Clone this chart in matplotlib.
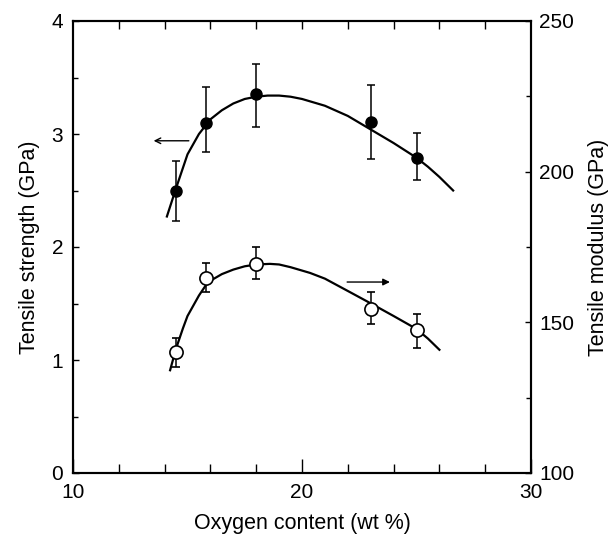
import numpy as np
import matplotlib
matplotlib.use("Agg")
import matplotlib.pyplot as plt
from matplotlib.ticker import MultipleLocator

plt.rcParams["font.family"] = ["Liberation Sans", "DejaVu Sans"]

# measured points (oxygen content, wt %)
oxygen = [14.5, 15.8, 18.0, 23.0, 25.0]

# tensile strength (GPa), filled circles, left axis
strength = [2.50, 3.10, 3.35, 3.11, 2.79]
strength_hi = [2.76, 3.42, 3.62, 3.43, 3.01]
strength_lo = [2.23, 2.84, 3.06, 2.78, 2.59]

# tensile modulus (GPa), open circles, right axis
modulus = [140.0, 164.6, 169.4, 154.4, 147.4]
modulus_hi = [144.7, 169.6, 175.0, 160.0, 152.8]
modulus_lo = [135.2, 160.0, 164.4, 149.3, 141.6]

# fitted curves
strength_fit_x = [14.1, 14.5, 15.0, 15.5, 16.0, 16.5, 17.0, 17.5, 18.0, 18.5,
                  19.0, 19.5, 20.0, 21.0, 22.0, 23.0, 24.0, 25.0, 25.5, 26.0, 26.6]
strength_fit_y = [2.27, 2.52, 2.82, 3.00, 3.13, 3.21, 3.27, 3.31, 3.33, 3.34,
                  3.34, 3.33, 3.31, 3.25, 3.16, 3.04, 2.92, 2.79, 2.71, 2.62, 2.50]

modulus_fit_x = [14.24, 14.5, 14.8, 15.0, 15.5, 15.8, 16.0, 16.5, 17.0, 17.5, 18.0,
                 18.6, 19.0, 19.5, 20.35, 21.0, 22.1, 23.0, 24.0, 25.0, 25.5, 26.0]
modulus_fit_y = [134.1, 141.3, 148.0, 152.1, 158.9, 162.3, 163.8, 166.0, 167.5, 168.6, 169.2,
                 169.4, 169.2, 168.3, 166.4, 164.5, 160.0, 156.3, 152.1, 147.8, 144.6, 140.9]

fig = plt.figure(figsize=(6.1, 5.36), dpi=100)
fig.subplots_adjust(left=73 / 610, right=531 / 610, top=1 - 21 / 536, bottom=1 - 473 / 536)
ax = fig.add_subplot(111)
ax2 = ax.twinx()

# strength
ax.plot(strength_fit_x, strength_fit_y, color="black", lw=1.6, zorder=2)
s = np.array(strength)
ax.errorbar(oxygen, strength,
            yerr=[s - np.array(strength_lo), np.array(strength_hi) - s],
            fmt="o", color="black", ms=8, ecolor="black", elinewidth=1.1,
            capsize=3, capthick=1.1, zorder=3)

# modulus
ax2.plot(modulus_fit_x, modulus_fit_y, color="black", lw=1.6, zorder=2)
m = np.array(modulus)
ax2.errorbar(oxygen, modulus,
             yerr=[m - np.array(modulus_lo), np.array(modulus_hi) - m],
             fmt="o", mfc="white", mec="black", mew=1.2, ms=9.5, ecolor="black",
             elinewidth=1.1, capsize=3, capthick=1.1, zorder=3)

# arrows pointing at the axes
ax.annotate("", xy=(13.4, 2.94), xytext=(15.18, 2.94),
            arrowprops=dict(arrowstyle="->", color="black", lw=1.0))
ax.annotate("", xy=(23.96, 1.69), xytext=(21.85, 1.69),
            arrowprops=dict(arrowstyle="-|>", color="black", lw=1.0, mutation_scale=10))

ax.set_xlim(10, 30)
ax.set_ylim(0, 4)
ax2.set_ylim(100, 250)

ax.set_xticks([10, 20, 30])
ax.xaxis.set_minor_locator(MultipleLocator(2))
ax.set_yticks([0, 1, 2, 3, 4])
ax.yaxis.set_minor_locator(MultipleLocator(0.5))
ax2.set_yticks([100, 150, 200, 250])
ax2.yaxis.set_minor_locator(MultipleLocator(25))

ax.tick_params(axis="x", which="major", direction="in", length=10, width=1.0,
               labelsize=15, pad=7)
ax.tick_params(axis="x", which="minor", direction="in", length=6.5, width=1.0)
ax.tick_params(axis="y", which="major", direction="in", length=4.5, width=1.0,
               labelsize=15, pad=7)
ax.tick_params(axis="y", which="minor", direction="in", length=3.5, width=1.0)
ax2.tick_params(axis="y", which="major", direction="in", length=4.5, width=1.0,
                labelsize=15, pad=6)
ax2.tick_params(axis="y", which="minor", direction="in", length=3.5, width=1.0)

top = ax.secondary_xaxis("top")
top.set_xticks(np.arange(12, 30, 2))
top.tick_params(direction="in", length=6, width=1.0, labeltop=False)
top.spines["top"].set_linewidth(1.2)

for a in (ax, ax2):
    for sp in a.spines.values():
        sp.set_linewidth(1.5)

ax.set_xlabel("Oxygen content (wt %)", fontsize=15.5, labelpad=8)
ax.set_ylabel("Tensile strength (GPa)", fontsize=15.5, labelpad=8)
ax2.set_ylabel("Tensile modulus (GPa)", fontsize=15.5, labelpad=10)

fig.savefig("out.png", dpi=100)
